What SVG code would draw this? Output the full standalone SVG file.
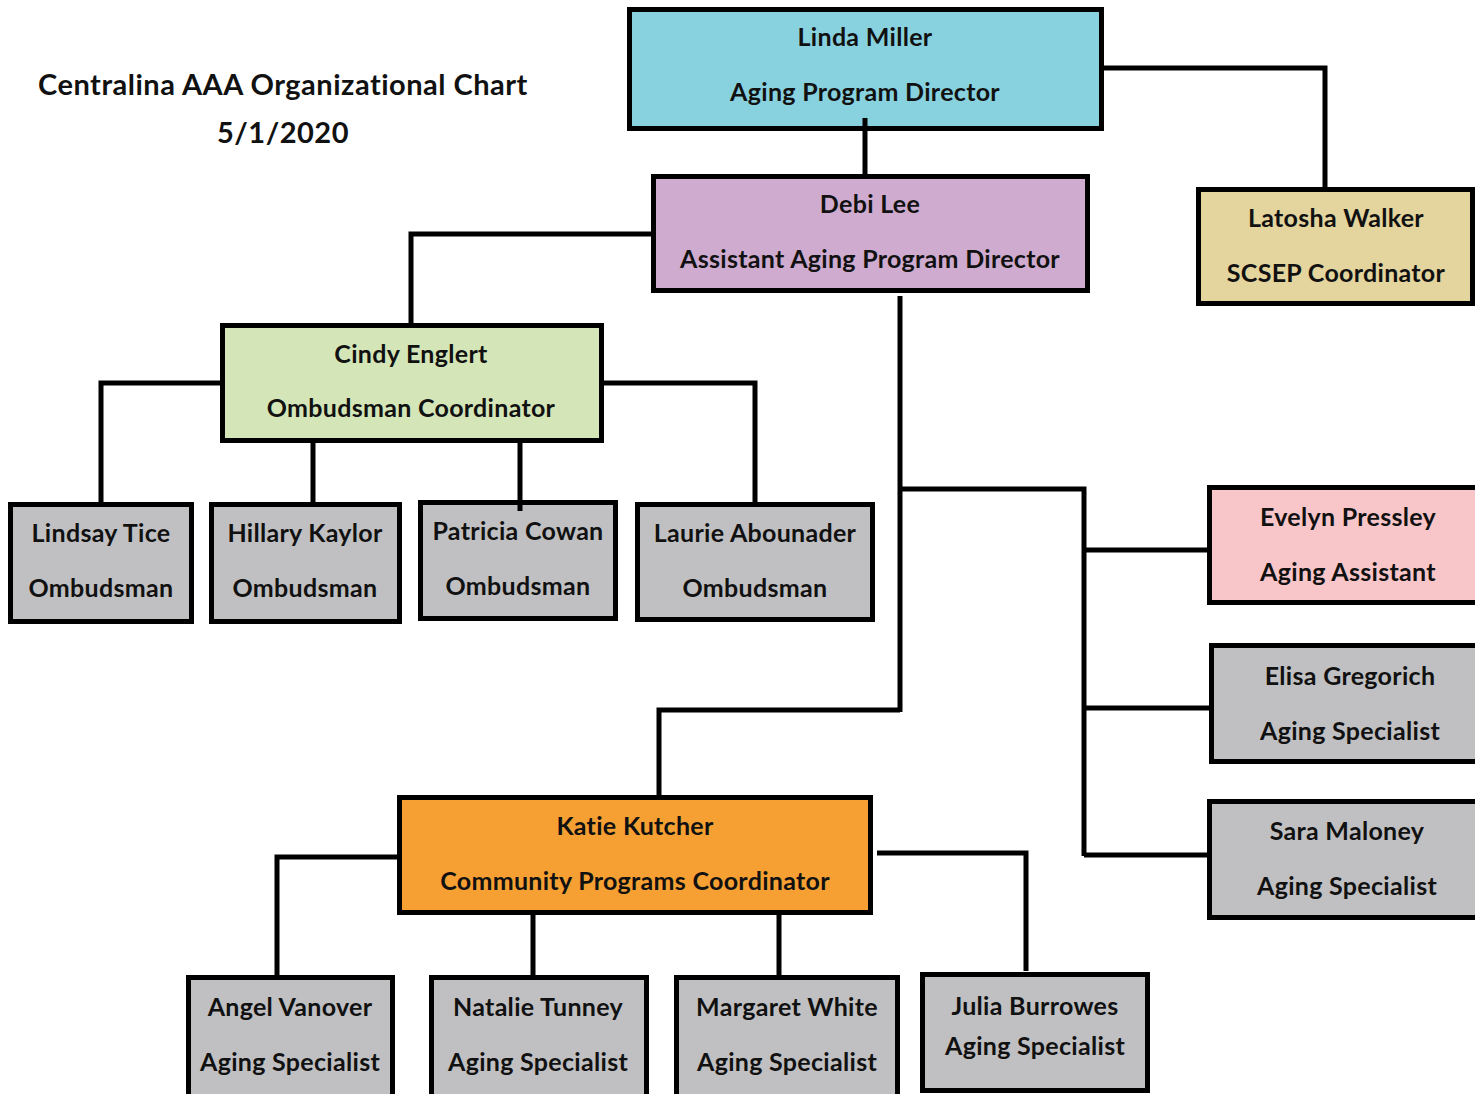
<svg xmlns="http://www.w3.org/2000/svg" width="1475" height="1094" viewBox="0 0 1475 1094">
<style>
text{font-family:Lato,"Open Sans","Liberation Sans",sans-serif;font-weight:700;font-size:25px;letter-spacing:0.3px;fill:#111;text-anchor:middle}
.title{font-size:29px;letter-spacing:0.5px}
.box{stroke:#000;stroke-width:5}
.cn{fill:none;stroke:#000;stroke-width:5}
.gray{fill:#c0c0c2}
</style>
<rect width="1475" height="1094" fill="#fff"/>
<g id="title">
<text class="title" x="283" y="95">Centralina AAA Organizational Chart</text>
<text class="title" x="283" y="143">5/1/2020</text>
</g>
<g id="linda">
<rect class="box" x="629.5" y="9.5" width="472" height="119" fill="#88d2e0"/>
<text x="865" y="46">Linda Miller</text>
<text x="865" y="101">Aging Program Director</text>
</g>
<g id="debi">
<rect class="box" x="653.5" y="176.5" width="434" height="114" fill="#cfabd0"/>
<text x="870" y="213">Debi Lee</text>
<text x="870" y="268">Assistant Aging Program Director</text>
</g>
<g id="latosha">
<rect class="box" x="1198.5" y="189.5" width="274" height="114" fill="#e4d49d"/>
<text x="1336" y="227">Latosha Walker</text>
<text x="1336" y="282">SCSEP Coordinator</text>
</g>
<g id="cindy">
<rect class="box" x="222.5" y="325.5" width="379" height="115" fill="#d4e6b8"/>
<text x="411" y="363">Cindy Englert</text>
<text x="411" y="417">Ombudsman Coordinator</text>
</g>
<g id="lindsay">
<rect class="box gray" x="10.5" y="504.5" width="181" height="117"/>
<text x="101" y="542">Lindsay Tice</text>
<text x="101" y="597">Ombudsman</text>
</g>
<g id="hillary">
<rect class="box gray" x="211.5" y="504.5" width="188" height="117"/>
<text x="305" y="542">Hillary Kaylor</text>
<text x="305" y="597">Ombudsman</text>
</g>
<g id="patricia">
<rect class="box gray" x="420.5" y="502.5" width="195" height="116"/>
<text x="518" y="540">Patricia Cowan</text>
<text x="518" y="595">Ombudsman</text>
</g>
<g id="laurie">
<rect class="box gray" x="637.5" y="504.5" width="235" height="115"/>
<text x="755" y="542">Laurie Abounader</text>
<text x="755" y="597">Ombudsman</text>
</g>
<g id="evelyn">
<rect class="box" x="1209.5" y="487.5" width="268" height="115" fill="#f8c6c9"/>
<text x="1348" y="526">Evelyn Pressley</text>
<text x="1348" y="581">Aging Assistant</text>
</g>
<g id="elisa">
<rect class="box gray" x="1211.5" y="645.5" width="266" height="116"/>
<text x="1350" y="685">Elisa Gregorich</text>
<text x="1350" y="740">Aging Specialist</text>
</g>
<g id="sara">
<rect class="box gray" x="1209.5" y="801.5" width="268" height="116"/>
<text x="1347" y="840">Sara Maloney</text>
<text x="1347" y="895">Aging Specialist</text>
</g>
<g id="katie">
<rect class="box" x="399.5" y="797.5" width="471" height="115" fill="#f6a033"/>
<text x="635" y="835">Katie Kutcher</text>
<text x="635" y="890">Community Programs Coordinator</text>
</g>
<g id="angel">
<rect class="box gray" x="188.5" y="977.5" width="204" height="120"/>
<text x="290" y="1016">Angel Vanover</text>
<text x="290" y="1071">Aging Specialist</text>
</g>
<g id="natalie">
<rect class="box gray" x="431.5" y="977.5" width="215" height="120"/>
<text x="538" y="1016">Natalie Tunney</text>
<text x="538" y="1071">Aging Specialist</text>
</g>
<g id="margaret">
<rect class="box gray" x="676.5" y="977.5" width="221" height="120"/>
<text x="787" y="1016">Margaret White</text>
<text x="787" y="1071">Aging Specialist</text>
</g>
<g id="julia">
<rect class="box gray" x="922.5" y="974.5" width="225" height="116"/>
<text x="1035" y="1015">Julia Burrowes</text>
<text x="1035" y="1055">Aging Specialist</text>
</g>
<g id="connectors">
<path class="cn" d="M865 118V178"/>
<path class="cn" d="M1104 68H1325V189"/>
<path class="cn" d="M653 234H411V325"/>
<path class="cn" d="M900 296V712"/>
<path class="cn" d="M900 489H1084V856"/>
<path class="cn" d="M1084 550H1208"/>
<path class="cn" d="M1084 708H1210"/>
<path class="cn" d="M1084 855H1208"/>
<path class="cn" d="M900 710H659V797"/>
<path class="cn" d="M221 383H101V504"/>
<path class="cn" d="M603 383H755V504"/>
<path class="cn" d="M313 441V506"/>
<path class="cn" d="M520 441V511"/>
<path class="cn" d="M398 857H277V977"/>
<path class="cn" d="M877 853H1026V971"/>
<path class="cn" d="M533 913V977"/>
<path class="cn" d="M779 913V977"/>
</g>
</svg>
